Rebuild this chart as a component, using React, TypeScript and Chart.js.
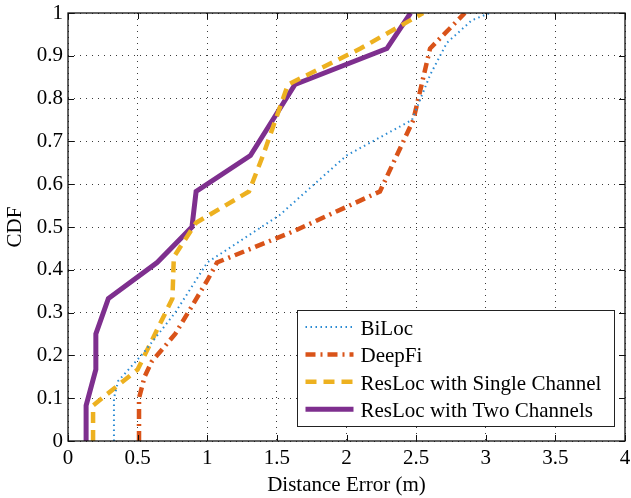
import { useEffect, useRef } from "react";
import { Chart, registerables } from "chart.js";

Chart.register(...registerables);

// Localization error CDFs (distance error in metres vs. cumulative probability)
const seriesNames = [
  "BiLoc",
  "DeepFi",
  "ResLoc with Single Channel",
  "ResLoc with Two Channels",
];

const bilocError = [0.33, 0.33, 0.36, 0.54, 0.77, 1.0, 1.52, 2.0, 2.47, 2.6, 2.72, 2.9, 3.03];
const bilocCdf = [0, 0.1, 0.14, 0.205, 0.3, 0.417, 0.528, 0.667, 0.75, 0.855, 0.93, 0.983, 1.0];

const deepfiError = [0.51, 0.51, 0.55, 0.6, 0.77, 1.0, 1.07, 1.62, 2.24, 2.48, 2.6, 2.85];
const deepfiCdf = [0, 0.1, 0.15, 0.185, 0.25, 0.375, 0.417, 0.49, 0.583, 0.75, 0.917, 1.0];

const singleError = [0.18, 0.18, 0.5, 0.75, 0.76, 0.92, 1.3, 1.4, 1.58, 2.1, 2.55];
const singleCdf = [0, 0.083, 0.167, 0.333, 0.43, 0.51, 0.583, 0.667, 0.833, 0.917, 1.0];

const twoError = [0.13, 0.13, 0.2, 0.2, 0.29, 0.64, 0.89, 0.92, 1.31, 1.63, 2.29, 2.46];
const twoCdf = [0, 0.083, 0.167, 0.25, 0.333, 0.417, 0.5, 0.583, 0.667, 0.833, 0.917, 1.0];

const xTickValues = [0, 0.5, 1, 1.5, 2, 2.5, 3, 3.5, 4];
const yTickValues = [0, 0.1, 0.2, 0.3, 0.4, 0.5, 0.6, 0.7, 0.8, 0.9, 1];

const FONT = '"Liberation Serif", "Times New Roman", serif';
const FONT_SIZE = 21;

const toPoints = (xs: number[], ys: number[]) => xs.map((x, i) => ({ x, y: ys[i] }));
const tickText = (v: number | string) => String(Math.round(Number(v) * 10) / 10);

// Box around the axes with inward tick marks on all four sides
const framePlugin = {
  id: "frame",
  afterDatasetsDraw(chart: any) {
    const { ctx, chartArea, scales } = chart;
    const { left, right, top, bottom } = chartArea;
    const len = 6;
    ctx.save();
    ctx.strokeStyle = "#111";
    ctx.lineWidth = 1;
    ctx.setLineDash([]);
    ctx.beginPath();
    xTickValues.forEach((v) => {
      const px = Math.round(scales.x.getPixelForValue(v)) + 0.5;
      ctx.moveTo(px, bottom);
      ctx.lineTo(px, bottom - len);
      ctx.moveTo(px, top);
      ctx.lineTo(px, top + len);
    });
    yTickValues.forEach((v) => {
      const py = Math.round(scales.y.getPixelForValue(v)) + 0.5;
      ctx.moveTo(left, py);
      ctx.lineTo(left + len, py);
      ctx.moveTo(right, py);
      ctx.lineTo(right - len, py);
    });
    ctx.stroke();
    ctx.lineWidth = 1.3;
    ctx.strokeRect(left, top, right - left, bottom - top);
    ctx.restore();
  },
};

// Legend boxed inside the lower-right corner of the plot
const insetLegendPlugin = {
  id: "insetLegend",
  afterDraw(chart: any) {
    const { ctx, chartArea } = chart;
    const w = 317;
    const h = 116;
    const x0 = Math.round(chartArea.right - 11 - w) + 0.5;
    const y0 = Math.round(chartArea.bottom - 15 - h) + 0.5;
    ctx.save();
    ctx.fillStyle = "#fff";
    ctx.fillRect(x0, y0, w, h);
    ctx.strokeStyle = "#222";
    ctx.lineWidth = 1;
    ctx.setLineDash([]);
    ctx.strokeRect(x0, y0, w, h);
    chart.data.datasets.forEach((ds: any, i: number) => {
      const baseline = y0 + 24.5 + i * 27.4;
      const ly = baseline - 8;
      ctx.save();
      ctx.strokeStyle = ds.borderColor;
      ctx.lineWidth = ds.borderWidth;
      ctx.setLineDash(ds.borderDash || []);
      ctx.beginPath();
      ctx.moveTo(x0 + 8, ly);
      ctx.lineTo(x0 + 56, ly);
      ctx.stroke();
      ctx.restore();
      ctx.fillStyle = "#000";
      ctx.font = `${FONT_SIZE}px ${FONT}`;
      ctx.textBaseline = "alphabetic";
      ctx.textAlign = "left";
      ctx.fillText(ds.label, x0 + 63, baseline);
    });
    ctx.restore();
  },
};

export default function App() {
  const canvasRef = useRef<HTMLCanvasElement | null>(null);

  useEffect(() => {
    document.body.style.margin = "0";
    const canvas = canvasRef.current;
    if (!canvas) return;

    const chart = new Chart(canvas, {
      type: "line",
      data: {
        datasets: [
          {
            label: seriesNames[0],
            data: toPoints(bilocError, bilocCdf),
            borderColor: "#2b8bd3",
            borderWidth: 2,
            borderDash: [1.5, 3.5],
          },
          {
            label: seriesNames[1],
            data: toPoints(deepfiError, deepfiCdf),
            borderColor: "#D95319",
            borderWidth: 4.5,
            borderDash: [10, 5, 2, 5],
          },
          {
            label: seriesNames[2],
            data: toPoints(singleError, singleCdf),
            borderColor: "#EDB120",
            borderWidth: 4.5,
            borderDash: [11, 7],
          },
          {
            label: seriesNames[3],
            data: toPoints(twoError, twoCdf),
            borderColor: "#7E2F8E",
            borderWidth: 5,
            borderDash: [],
          },
        ] as any,
      },
      options: {
        animation: false,
        responsive: false,
        devicePixelRatio: 1,
        parsing: false,
        elements: {
          point: { radius: 0, hoverRadius: 0 },
          line: { tension: 0, fill: false, borderCapStyle: "butt", borderJoinStyle: "miter" },
        },
        layout: { padding: { left: 0, top: 13, right: 6, bottom: 0 } },
        plugins: {
          legend: { display: false },
          tooltip: { enabled: false },
        },
        scales: {
          x: {
            type: "linear",
            min: 0,
            max: 4,
            afterFit: (scale: any) => {
              scale.height = 57;
              scale.paddingLeft = 0;
              scale.paddingRight = 0;
            },
            afterBuildTicks: (scale: any) => {
              scale.ticks = xTickValues.map((value) => ({ value }));
            },
            ticks: {
              color: "#000",
              padding: 5,
              font: { family: FONT, size: FONT_SIZE },
              maxRotation: 0,
              autoSkip: false,
              callback: tickText,
            },
            grid: { color: "#3a3a3a", lineWidth: 1, drawTicks: false },
            border: { display: false, dash: [1, 5] },
            title: {
              display: true,
              text: "Distance Error (m)",
              color: "#000",
              font: { family: FONT, size: FONT_SIZE },
              padding: { top: 0, bottom: 0 },
            },
          },
          y: {
            type: "linear",
            min: 0,
            max: 1,
            afterFit: (scale: any) => {
              scale.width = 68;
              scale.paddingTop = 0;
              scale.paddingBottom = 0;
            },
            afterBuildTicks: (scale: any) => {
              scale.ticks = yTickValues.map((value) => ({ value }));
            },
            ticks: {
              color: "#000",
              padding: 5,
              font: { family: FONT, size: FONT_SIZE },
              autoSkip: false,
              callback: tickText,
            },
            grid: { color: "#3a3a3a", lineWidth: 1, drawTicks: false },
            border: { display: false, dash: [1, 5] },
            title: {
              display: true,
              text: "CDF",
              color: "#000",
              font: { family: FONT, size: FONT_SIZE },
              padding: { top: 2.4, bottom: 0 },
            },
          },
        },
      } as any,
      plugins: [framePlugin, insetLegendPlugin],
    });

    return () => chart.destroy();
  }, []);

  return (
    <div style={{ width: 631, height: 498, background: "#fff" }}>
      <canvas ref={canvasRef} width={631} height={498} style={{ display: "block" }} />
    </div>
  );
}
